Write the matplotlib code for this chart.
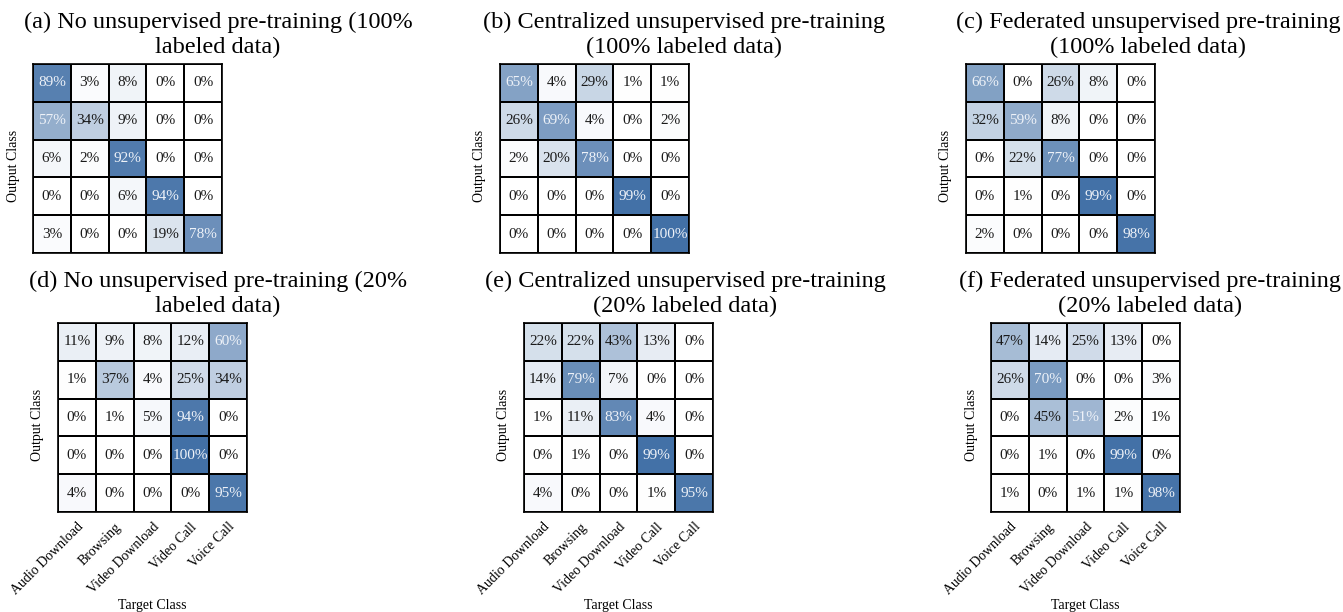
import numpy as np
import matplotlib.pyplot as plt
from matplotlib.colors import LinearSegmentedColormap

plt.rcParams['font.family'] = ['Liberation Serif', 'DejaVu Serif']

classes = ['Audio Download', 'Browsing', 'Video Download', 'Video Call', 'Voice Call']

cm_a = [[89, 3, 8, 0, 0], [57, 34, 9, 0, 0], [6, 2, 92, 0, 0], [0, 0, 6, 94, 0], [3, 0, 0, 19, 78]]
cm_b = [[65, 4, 29, 1, 1], [26, 69, 4, 0, 2], [2, 20, 78, 0, 0], [0, 0, 0, 99, 0], [0, 0, 0, 0, 100]]
cm_c = [[66, 0, 26, 8, 0], [32, 59, 8, 0, 0], [0, 22, 77, 0, 0], [0, 1, 0, 99, 0], [2, 0, 0, 0, 98]]
cm_d = [[11, 9, 8, 12, 60], [1, 37, 4, 25, 34], [0, 1, 5, 94, 0], [0, 0, 0, 100, 0], [4, 0, 0, 0, 95]]
cm_e = [[22, 22, 43, 13, 0], [14, 79, 7, 0, 0], [1, 11, 83, 4, 0], [0, 1, 0, 99, 0], [4, 0, 0, 1, 95]]
cm_f = [[47, 14, 25, 13, 0], [26, 70, 0, 0, 3], [0, 45, 51, 2, 1], [0, 1, 0, 99, 0], [1, 0, 1, 1, 98]]

titles = [
    '(a) No unsupervised pre-training (100%\nlabeled data)',
    '(b) Centralized unsupervised pre-training\n(100% labeled data)',
    '(c) Federated unsupervised pre-training\n(100% labeled data)',
    '(d) No unsupervised pre-training (20%\nlabeled data)',
    '(e) Centralized unsupervised pre-training\n(20% labeled data)',
    '(f) Federated unsupervised pre-training\n(20% labeled data)',
]
matrices = [cm_a, cm_b, cm_c, cm_d, cm_e, cm_f]

W, H = 1343, 612
fig = plt.figure(figsize=(W / 100, H / 100), dpi=100)

cmap = LinearSegmentedColormap.from_list('cm', ['#ffffff', '#4270a6'])

# pixel boxes of each matrix (left, top) and title centres
boxes = [(33, 64), (500, 64), (966, 64), (58, 323), (524, 323), (991, 323)]
title_pos = [(218, 35), (684, 35), (1148, 35), (218, 294), (685, 294), (1150, 294)]
size = 189

for i, (cm, ttl) in enumerate(zip(matrices, titles)):
    x0, y0 = boxes[i]
    ax = fig.add_axes([x0 / W, 1 - (y0 + size) / H, size / W, size / H])
    data = np.array(cm)
    ax.pcolormesh(data, cmap=cmap, vmin=0, vmax=100, edgecolors='black', linewidth=1.2)
    ax.set_xlim(0, 5)
    ax.set_ylim(5, 0)
    for r in range(5):
        for c in range(5):
            v = data[r, c]
            ax.text(c + 0.5, r + 0.5, f'{v}%', ha='center', va='center', fontsize=11,
                    color='#eef2f8' if v >= 50 else '#1a1a1a')
    for s in ax.spines.values():
        s.set_linewidth(1.2)
    ax.set_yticks([])
    if i >= 3:
        ax.set_xticks(np.arange(5) + 0.5)
        ax.set_xticklabels(classes, rotation=45, ha='right', rotation_mode='anchor', fontsize=10)
        ax.tick_params(axis='x', length=0, pad=6)
        fig.text((x0 + size / 2) / W, 1 - 605 / H, 'Target Class', ha='center', va='center', fontsize=10)
    else:
        ax.set_xticks([])
    fig.text((x0 - 20) / W, 1 - (y0 + size / 2 + 7) / H, 'Output Class', rotation=90,
             ha='center', va='center', fontsize=10)
    tx, ty = title_pos[i]
    fig.text(tx / W, 1 - ty / H, ttl, ha='center', va='center', fontsize=17.5,
             multialignment='center', linespacing=1.2)

fig.savefig('out.png', dpi=100)
